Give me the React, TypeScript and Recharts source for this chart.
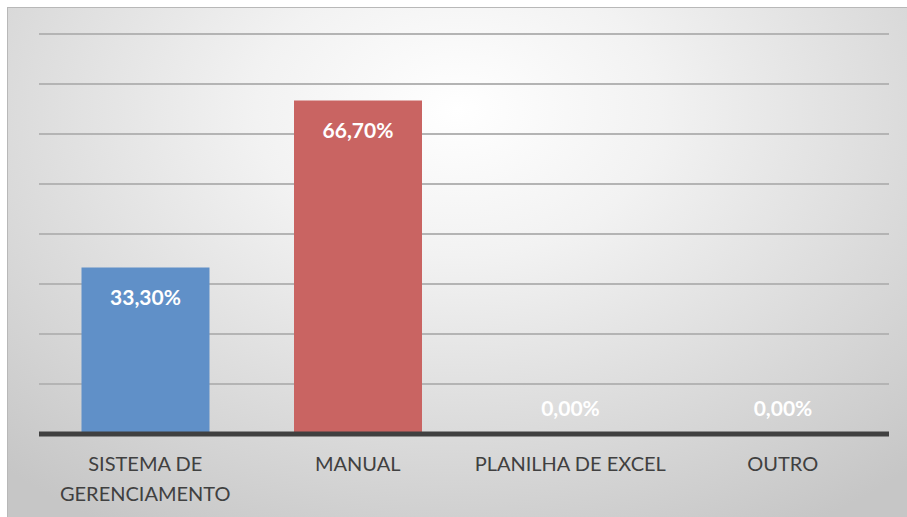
import { Bar, BarChart, CartesianGrid, Cell, LabelList, XAxis, YAxis } from "recharts";

const categories = ["SISTEMA DE GERENCIAMENTO", "MANUAL", "PLANILHA DE EXCEL", "OUTRO"];
const percentages = [33.3, 66.7, 0, 0];
const barColors = ["#6090c8", "#c96462", "#9bbb59", "#8064a2"];
const yTicks = [0, 10, 20, 30, 40, 50, 60, 70, 80];

const data = categories.map((name, i) => ({ name, value: percentages[i] }));

const fmt = (v: number) => v.toFixed(2).replace(".", ",") + "%";

const wrap = (text: string, maxChars: number) => {
  const lines: string[] = [];
  let cur = "";
  text.split(" ").forEach((w) => {
    if (cur && (cur + " " + w).length > maxChars) {
      lines.push(cur);
      cur = w;
    } else {
      cur = cur ? cur + " " + w : w;
    }
  });
  if (cur) lines.push(cur);
  return lines;
};

const CategoryTick = ({ x, y, payload }: any) => {
  const lines = wrap(payload.value, 17);
  return (
    <text
      x={x}
      y={y}
      textAnchor="middle"
      fill="#404040"
      fontSize={20}
      fontFamily="Lato, sans-serif"
    >
      {lines.map((l, i) => (
        <tspan key={i} x={x} dy={i === 0 ? 21 : 30} dominantBaseline="central">
          {l}
        </tspan>
      ))}
    </text>
  );
};

const ValueLabel = (props: any) => {
  const { x, y, width, value } = props;
  const v = Number(value);
  const cy = v > 0 ? y + 29 : y - 26;
  return (
    <text
      x={x + width / 2}
      y={cy}
      textAnchor="middle"
      dominantBaseline="central"
      fill="#ffffff"
      fontSize={21}
      fontWeight="bold"
      fontFamily="Lato, sans-serif"
    >
      {fmt(v)}
    </text>
  );
};

export default function App() {
  return (
    <div
      style={{
        position: "absolute",
        left: 7,
        top: 7,
        width: 900,
        height: 510,
        border: "1px solid #b8b8b8",
        background:
          "radial-gradient(ellipse 75% 95% at 50% 20%, #ffffff 0%, #f2f2f2 30%, #dcdcdc 65%, #c6c6c6 100%)",
      }}
    >
      <BarChart
        width={900}
        height={510}
        data={data}
        margin={{ top: 26, right: 19, left: 31, bottom: 24 }}
        barCategoryGap="20%"
      >
        <CartesianGrid vertical={false} stroke="#b4b4b4" strokeWidth={2} />
        <YAxis hide domain={[0, 80]} ticks={yTicks} />
        <XAxis
          dataKey="name"
          height={60}
          interval={0}
          tickLine={false}
          axisLine={{ stroke: "#404040", strokeWidth: 5 }}
          tick={<CategoryTick />}
        />
        <Bar dataKey="value" minPointSize={0.1} isAnimationActive={false}>
          {data.map((d, i) => (
            <Cell key={d.name} fill={barColors[i]} />
          ))}
          <LabelList dataKey="value" content={<ValueLabel />} />
        </Bar>
      </BarChart>
    </div>
  );
}
